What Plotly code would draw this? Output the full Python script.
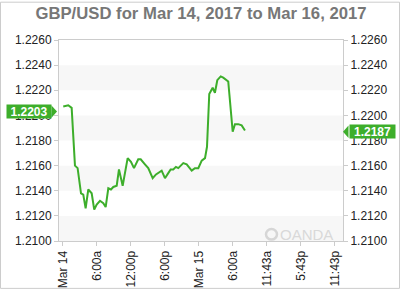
import plotly.graph_objects as go

times = ["2017-03-14 00:03","2017-03-14 00:56","2017-03-14 01:32","2017-03-14 02:07","2017-03-14 02:35",
         "2017-03-14 03:11","2017-03-14 03:35","2017-03-14 04:00","2017-03-14 04:28","2017-03-14 05:04",
         "2017-03-14 05:31","2017-03-14 05:57","2017-03-14 06:32","2017-03-14 07:07","2017-03-14 07:32",
         "2017-03-14 08:00","2017-03-14 08:28","2017-03-14 08:53","2017-03-14 09:29","2017-03-14 09:53",
         "2017-03-14 10:32","2017-03-14 11:25","2017-03-14 12:00","2017-03-14 12:32","2017-03-14 13:17",
         "2017-03-14 13:43","2017-03-14 14:28","2017-03-14 15:03","2017-03-14 15:50","2017-03-14 16:25",
         "2017-03-14 17:25","2017-03-14 18:00","2017-03-14 18:35","2017-03-14 19:00","2017-03-14 19:28",
         "2017-03-14 19:56","2017-03-14 20:21","2017-03-14 21:14","2017-03-14 21:50","2017-03-14 22:43",
         "2017-03-14 23:17","2017-03-14 23:53","2017-03-15 00:29","2017-03-15 01:04","2017-03-15 01:25",
         "2017-03-15 01:49","2017-03-15 02:25","2017-03-15 02:49","2017-03-15 03:14","2017-03-15 03:50",
         "2017-03-15 04:17","2017-03-15 04:46","2017-03-15 05:10","2017-03-15 05:57","2017-03-15 06:21",
         "2017-03-15 06:56","2017-03-15 07:32","2017-03-15 08:07"]
rates = [1.2207,1.2208,1.2206,1.2160,1.2158,
         1.2138,1.2137,1.2126,1.2141,1.2138,
         1.2125,1.2129,1.2132,1.2130,1.2127,
         1.2142,1.2141,1.2143,1.2144,1.2157,
         1.2144,1.2166,1.2163,1.2158,1.2165,
         1.2165,1.2161,1.2158,1.2150,1.2153,
         1.2156,1.2150,1.2154,1.2157,1.2157,
         1.2159,1.2158,1.2162,1.2161,1.2156,
         1.2158,1.2158,1.2164,1.2166,1.2175,
         1.2217,1.2222,1.2218,1.2228,1.2231,
         1.2230,1.2228,1.2227,1.2187,1.2193,
         1.2193,1.2192,1.2188]

y_ticks = [1.2100,1.2120,1.2140,1.2160,1.2180,1.2200,1.2220,1.2240,1.2260]
y_labels = ["1.2100","1.2120","1.2140","1.2160","1.2180","1.2200","1.2220","1.2240","1.2260"]
x_ticks = ["2017-03-14 00:00","2017-03-14 06:00","2017-03-14 12:00","2017-03-14 18:00",
           "2017-03-15 00:00","2017-03-15 06:00","2017-03-15 12:00","2017-03-15 18:00","2017-03-16 00:00"]
x_labels = ["Mar 14","6:00a","12:00p","6:00p","Mar 15","6:00a","11:43a","5:43p","11:43p"]
x_range = ["2017-03-13 23:18","2017-03-16 01:25"]
open_rate = 1.2203
last_rate = 1.2187
title = "GBP/USD for Mar 14, 2017 to Mar 16, 2017"

GREEN = "#3dae2b"
FONT = "Liberation Sans, Arial, sans-serif"
L, R, T, B = 59, 57, 40, 50
PW, PH = 400 - L - R, 300 - T - B

fig = go.Figure()
fig.add_trace(go.Scatter(x=times, y=rates, mode="lines",
                         line=dict(color=GREEN, width=2), hoverinfo="skip", showlegend=False))
fig.add_trace(go.Scatter(x=times, y=rates, mode="lines", yaxis="y2",
                         line=dict(color="rgba(0,0,0,0)", width=0), hoverinfo="skip", showlegend=False))

shapes = []
# alternating bands
for i in range(0, len(y_ticks) - 1, 2):
    shapes.append(dict(type="rect", xref="paper", yref="y", x0=0, x1=1,
                       y0=y_ticks[i], y1=y_ticks[i + 1], fillcolor="#f7f7f7",
                       line=dict(width=0), layer="below"))
# outer frame
shapes.append(dict(type="rect", xref="paper", yref="paper",
                   x0=(0.5 - L) / PW, x1=(399.5 - L) / PW,
                   y0=(250 - 299.5) / PH, y1=(250 - 0.5) / PH,
                   line=dict(color="#cccccc", width=1), fillcolor="rgba(0,0,0,0)"))

# label arrows
def hpx(px):
    return px / PH * (y_ticks[-1] - y_ticks[0])

half = hpx(6.5)
lt_tip, lt_base = (57 - L) / PW, (51.5 - L) / PW
shapes.append(dict(type="path", xref="paper", yref="y",
                   path=f"M {lt_base},{open_rate - half} L {lt_tip},{open_rate} L {lt_base},{open_rate + half} Z",
                   fillcolor=GREEN, line=dict(width=0)))
rt_tip, rt_base = (343 - L) / PW, (348.5 - L) / PW
shapes.append(dict(type="path", xref="paper", yref="y",
                   path=f"M {rt_base},{last_rate - half} L {rt_tip},{last_rate} L {rt_base},{last_rate + half} Z",
                   fillcolor=GREEN, line=dict(width=0)))
# oanda logo circle
shapes.append(dict(type="circle", xref="paper", yref="paper",
                   x0=(266 - L) / PW, x1=(277 - L) / PW,
                   y0=(250 - 248.5) / PH, y1=(250 - 237.5) / PH,
                   line=dict(color="#d6d6d6", width=2.5), fillcolor="rgba(0,0,0,0)"))

annotations = [
    dict(text=f"<b>{open_rate:.4f}</b>", xref="paper", yref="y", x=(51.5 - L) / PW, y=open_rate,
         xanchor="right", yanchor="middle", showarrow=False, bgcolor=GREEN,
         font=dict(family=FONT, size=12, color="white"), borderpad=0, height=13, width=44),
    dict(text=f"<b>{last_rate:.4f}</b>", xref="paper", yref="y", x=(348.5 - L) / PW, y=last_rate,
         xanchor="left", yanchor="middle", showarrow=False, bgcolor=GREEN,
         font=dict(family=FONT, size=12, color="white"), borderpad=0, height=13, width=45),
    dict(text="OANDA", xref="paper", yref="paper", x=(278 - L) / PW, y=(250 - 243) / PH,
         xanchor="left", yanchor="middle", showarrow=False,
         font=dict(family=FONT, size=15, color="#d9d9d9")),
]

axis_common = dict(showgrid=False, zeroline=False, ticks="outside", ticklen=4,
                   tickcolor="#cccccc", linecolor="#cccccc", linewidth=1,
                   tickfont=dict(family=FONT, size=12, color="#222222"))

fig.update_layout(
    width=400, height=300,
    margin=dict(l=L, r=R, t=T, b=B),
    paper_bgcolor="white", plot_bgcolor="white",
    title=dict(text=f"<b>{title}</b>", x=0.5, xref="paper", xanchor="center",
               y=1 - 13 / 300, yanchor="middle", yref="container",
               font=dict(family=FONT, size=16.7, color="#777777")),
    xaxis=dict(type="date", range=x_range, tickvals=x_ticks, ticktext=x_labels,
               tickangle=-90, showline=True, mirror=True, **axis_common),
    yaxis=dict(range=[y_ticks[0], y_ticks[-1]], tickvals=y_ticks, ticktext=y_labels,
               showline=True, mirror=True, side="left", **axis_common),
    yaxis2=dict(range=[y_ticks[0], y_ticks[-1]], tickvals=y_ticks, ticktext=y_labels,
                overlaying="y", side="right", showline=True, **axis_common),
    shapes=shapes, annotations=annotations, showlegend=False,
)

fig.write_html("out.html")
